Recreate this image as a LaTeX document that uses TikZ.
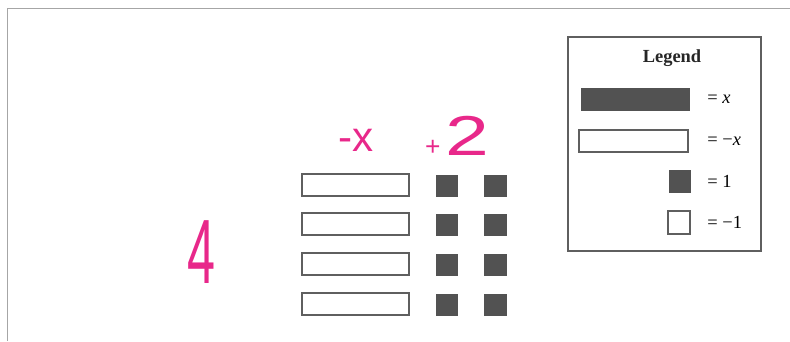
\documentclass[tikz,border=0pt]{standalone}
\usepackage{fontspec}
\setmainfont{Liberation Serif}
\newfontfamily\handfont{Liberation Sans}
\usetikzlibrary{positioning}

\definecolor{handpink}{RGB}{232,40,138}
\definecolor{tiledark}{RGB}{82,82,82}
\definecolor{tileedge}{RGB}{95,95,95}

\tikzset{
  posx/.style={fill=tiledark, draw=tiledark, line width=0.5pt},
  negx/.style={fill=white, draw=tileedge, line width=0.6pt},
  hand/.style={text=handpink, font=\handfont, inner sep=0pt},
  legtext/.style={anchor=west, inner sep=0pt, font=\fontsize{10.5}{12}\selectfont}
}

\begin{document}
\begin{tikzpicture}[x=0.02cm, y=-0.02cm]
        \useasboundingbox (0,0) rectangle (790,341);

        % Rahmen der Seite
        \draw[gray!70, line width=0.5pt] (7,341) -- (7,8) -- (790,8);

        % Kacheln: -x und +1
        \foreach \y in {174,213,253,293} {
          \draw[negx] (302,\y) rectangle (409,\y+22);
          \draw[posx] (436,\y+1) rectangle (457,\y+22);
          \draw[posx] (484,\y+1) rectangle (506,\y+22);
        }

        % Handschrift
        \node[hand] (count) at (201,252) {\scalebox{0.55}[1]{\fontsize{52}{52}\selectfont 4}};
        \node[hand] (minusx) at (356,140) {\fontsize{24}{24}\selectfont -x};
        \node[hand] (plustwo) at (457,136) {\fontsize{15}{15}\selectfont +\,\scalebox{1.4}[1]{\fontsize{32}{32}\selectfont 2}};

        % Legende
        \draw[tileedge, line width=1.2pt] (568,37) rectangle (761,251);
        \node[font=\fontsize{10.5}{12}\selectfont\bfseries, text=black!85] (legtitle) at (672,58) {Legend};
        \draw[posx] (581,88) rectangle (689,110);
        \draw[negx] (579,130) rectangle (688,152);
        \draw[posx] (669,170) rectangle (690,192);
        \draw[negx] (668,211) rectangle (690,234);
        \node[legtext] (legx) at (707,99) {= \textit{x}};
        \node[legtext] (legnegx) at (707,141) {= −\textit{x}};
        \node[legtext] (legone) at (707,181) {= 1};
        \node[legtext] (legnegone) at (707,222) {= −1};
\end{tikzpicture}
\end{document}
